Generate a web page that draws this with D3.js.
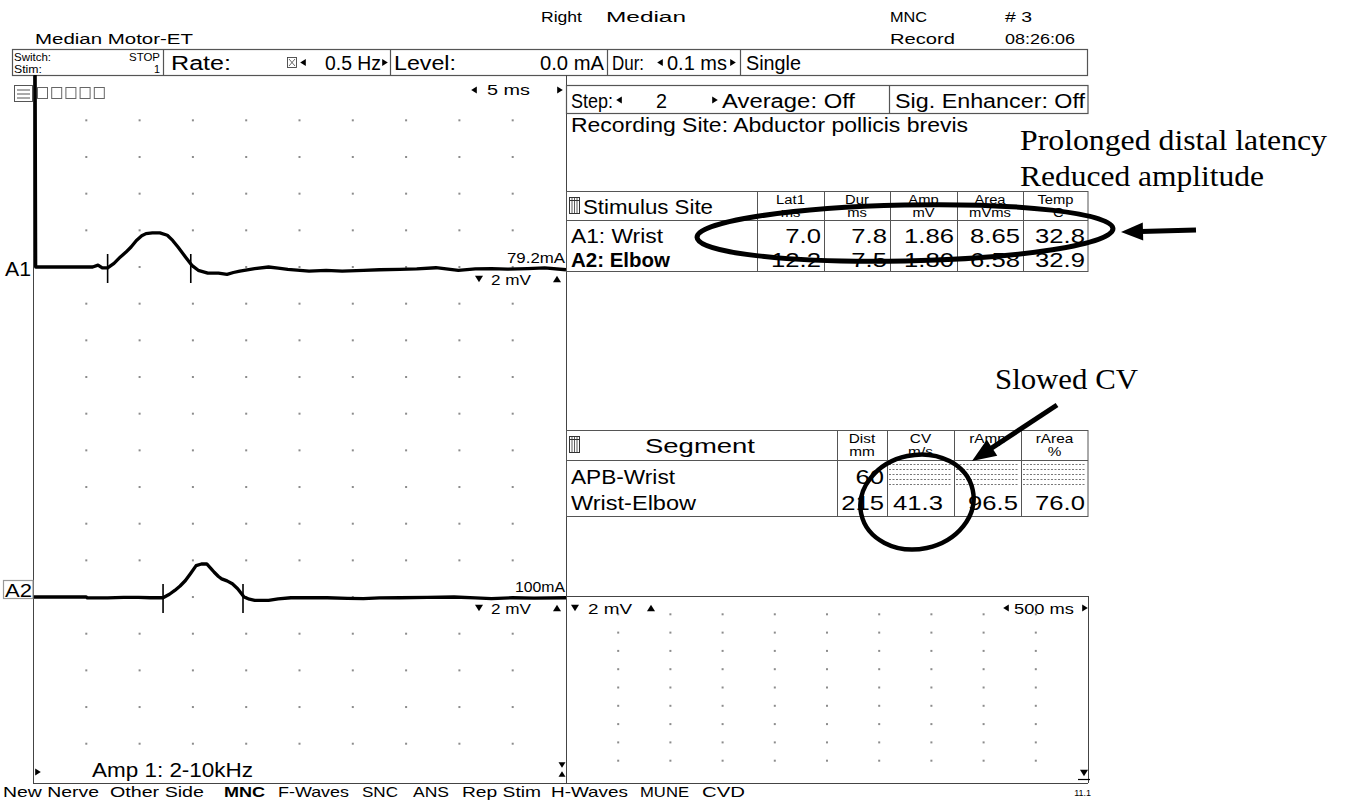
<!DOCTYPE html>
<html><head><meta charset="utf-8">
<script src="https://cdn.jsdelivr.net/npm/d3@7"></script>
<style>body{margin:0;background:#fff}svg{display:block}</style>
</head><body>
<script>
// ================= DATA =================
const titleLeft = "Median Motor-ET";
const titleTop = ["Right", "Median", "MNC", "Record", "# 3", "08:26:06"];
const ctrlLabels = ["Switch:", "STOP", "Stim:", "1", "Rate:", "0.5 Hz", "Level:", "0.0 mA", "Dur:", "0.1 ms", "Single"];
const stepLabels = ["Step:", "2", "Average: Off", "Sig. Enhancer: Off"];
const recordingSite = "Recording Site: Abductor pollicis brevis";

// A1 trace (time ms, amplitude mV)
const a1Time = [0.2, 0.25, 5.6, 6.1, 6.5, 7.0, 7.6, 8.2, 8.7, 9.2, 9.7, 10.2, 10.6, 11.2, 11.9, 12.6, 13.1, 13.6, 14.3, 14.9, 15.5, 16.4, 17.4, 18.2, 18.8, 19.4, 20.8, 22.1, 23.0, 23.9, 25.9, 27.5, 29.0, 31.0, 32.5, 34.4, 36.0, 37.8, 39.9, 41.5, 43.0, 44.5, 46.4, 48.0, 50.0];
const a1Volt = [10.8, 0, 0, 0.1, -0.05, -0.05, 0.2, 0.55, 0.8, 1.09, 1.45, 1.7, 1.82, 1.86, 1.86, 1.73, 1.45, 1.09, 0.55, 0.09, -0.18, -0.33, -0.33, -0.4, -0.3, -0.22, -0.09, 0.0, -0.06, -0.13, -0.22, -0.18, -0.22, -0.18, -0.15, -0.13, -0.1, -0.04, -0.18, -0.1, -0.09, -0.12, -0.09, -0.05, -0.15];
// A2 trace
const a2Time = [0, 5.0, 5.1, 7.0, 8.5, 9.9, 11.0, 12.2, 12.8, 13.3, 13.8, 14.3, 14.8, 15.3, 15.8, 16.3, 16.7, 17.0, 17.4, 17.7, 18.2, 18.7, 19.2, 19.8, 20.3, 20.8, 22.1, 23.0, 24.2, 26.0, 27.6, 29.5, 31.0, 32.5, 34.4, 37.0, 39.5, 41.5, 43.0, 45.0, 47.0, 50.0];
const a2Volt = [0, 0, -0.05, -0.05, -0.02, -0.02, -0.04, -0.04, 0.15, 0.36, 0.6, 0.9, 1.3, 1.71, 1.80, 1.80, 1.55, 1.35, 1.12, 0.99, 0.88, 0.72, 0.45, 0.0, -0.12, -0.18, -0.18, -0.1, -0.04, -0.04, -0.04, -0.07, -0.09, -0.05, -0.04, -0.02, 0, -0.05, -0.09, -0.04, -0.06, -0.04];
const a1Markers = [7.0, 14.8];
const a2Markers = [12.2, 19.7];
const traceNames = ["A1", "A2"];
const stimIntensity = ["79.2mA", "100mA"];
const sensLabel = "2 mV";
const sweepLabel = "5 ms";
const sweepLabel2 = "500 ms";
const ampLabel = "Amp 1: 2-10kHz";

// stimulus table
const stimSites = ["A1: Wrist", "A2: Elbow"];
const stimHead = [["Lat1", "ms"], ["Dur", "ms"], ["Amp", "mV"], ["Area", "mVms"], ["Temp", "°C"]];
const stimLat = [7.0, 12.2];
const stimDur = [7.8, 7.5];
const stimAmp = [1.86, 1.80];
const stimArea = [8.65, 6.58];
const stimTemp = [32.8, 32.9];

// segment table
const segNames = ["APB-Wrist", "Wrist-Elbow"];
const segHead = [["Dist", "mm"], ["CV", "m/s"], ["rAmp", "%"], ["rArea", "%"]];
const segDist = [60, 215];
const segCV = [null, 41.3];
const segRAmp = [null, 96.5];
const segRArea = [null, 76.0];

const navItems = ["New Nerve", "Other Side", "MNC", "F-Waves", "SNC", "ANS", "Rep Stim", "H-Waves", "MUNE", "CVD"];
const version = "11.1";
const notes = ["Prolonged distal latency", "Reduced amplitude", "Slowed CV"];

// ================= DRAWING =================
const W = 1347, H = 801;
const SANS = "'Liberation Sans', Arial, sans-serif";
const SERIF = "'Liberation Serif', 'Times New Roman', serif";
const SX = 1.18;
const svg = d3.select("body").append("svg").attr("width", W).attr("height", H);
svg.append("rect").attr("width", W).attr("height", H).attr("fill", "#fff");

function T(x, y, s, o = {}) {
  const t = svg.append("text").attr("x", x).attr("y", y).text(s)
    .attr("font-family", o.serif ? SERIF : SANS)
    .attr("font-size", o.size || 16)
    .attr("fill", o.fill || "#000");
  if (o.bold) t.attr("font-weight", "bold");
  let w = o.w;
  if (!w) w = t.node().getComputedTextLength() * (o.sx || SX);
  t.attr("textLength", w).attr("lengthAdjust", "spacingAndGlyphs");
  if (o.anchor === "end") t.attr("x", x - w);
  else if (o.anchor === "middle") t.attr("x", x - w / 2);
  return t;
}
function L(x1, y1, x2, y2, c = "#555", w = 1) {
  svg.append("line").attr("x1", x1).attr("y1", y1).attr("x2", x2).attr("y2", y2)
    .attr("stroke", c).attr("stroke-width", w);
}
function R(x, y, w, h, c = "#555", sw = 1) {
  svg.append("rect").attr("x", x).attr("y", y).attr("width", w).attr("height", h)
    .attr("fill", "none").attr("stroke", c).attr("stroke-width", sw);
}
function tri(cx, cy, dir, s = 4) {
  let p;
  if (dir === "l") p = [[cx - s * 0.8, cy], [cx + s * 0.8, cy - s], [cx + s * 0.8, cy + s]];
  if (dir === "r") p = [[cx + s * 0.8, cy], [cx - s * 0.8, cy - s], [cx - s * 0.8, cy + s]];
  if (dir === "d") p = [[cx, cy + s * 0.8], [cx - s, cy - s * 0.8], [cx + s, cy - s * 0.8]];
  if (dir === "u") p = [[cx, cy - s * 0.8], [cx - s, cy + s * 0.8], [cx + s, cy + s * 0.8]];
  svg.append("path").attr("d", d3.line()(p) + "Z").attr("fill", "#000");
}
function tableIcon(x, y) {
  R(x + 0.5, y + 0.5, 10, 16, "#333", 1);
  [2.5, 5, 7.5].forEach(d => L(x + 0.5 + d, y + 0.5, x + 0.5 + d, y + 16.5, "#333", 0.8));
  L(x + 0.5, y + 3.5, x + 10.5, y + 3.5, "#333", 1);
}

// ---- header ----
T(35, 44, titleLeft, { size: 15.5, w: 158 });
T(541, 22, titleTop[0], { size: 15.5, w: 41 });
T(606, 22, titleTop[1], { size: 15.5, w: 80 });
T(890, 22, titleTop[2], { size: 15.5, w: 37 });
T(890, 44, titleTop[3], { size: 15.5, w: 65 });
T(1005, 22, titleTop[4], { size: 15.5, w: 27 });
T(1005, 44, titleTop[5], { size: 15.5, w: 70 });

// ---- control bar ----
const cb = { y0: 49.5, y1: 75.5 };
R(12.5, cb.y0, 1075, cb.y1 - cb.y0, "#555", 1.2);
[163.5, 390.5, 607.5, 740.5].forEach(x => L(x, cb.y0, x, cb.y1, "#555", 1.2));
T(14, 61, ctrlLabels[0], { size: 11.5, w: 37 });
T(160, 61, ctrlLabels[1], { size: 11.5, w: 31, anchor: "end" });
T(14, 73, ctrlLabels[2], { size: 11.5, w: 28 });
T(160, 73, ctrlLabels[3], { size: 11.5, w: 6, anchor: "end" });
T(171, 70, ctrlLabels[4], { size: 19.5, w: 60 });
R(287.5, 57.5, 9, 10, "#444", 0.9);
L(289, 59, 295, 66, "#444", 0.8); L(295, 59, 289, 66, "#444", 0.8);
tri(303, 62.5, "l", 3.5);
T(325, 70, ctrlLabels[5], { size: 19.5, w: 56 });
tri(385, 62.5, "r", 3.5);
T(394, 70, ctrlLabels[6], { size: 19.5, w: 62 });
T(604, 70, ctrlLabels[7], { size: 19.5, w: 64, anchor: "end" });
T(612, 70, ctrlLabels[8], { size: 19.5, w: 32 });
tri(660, 62.5, "l", 3.5);
T(667, 70, ctrlLabels[9], { size: 19.5, w: 60 });
tri(733, 62.5, "r", 3.5);
T(746, 70, ctrlLabels[10], { size: 19.5, w: 55 });

// ---- left panel frame ----
const LX0 = 33, LX1 = 566, PY0 = 75, PY1 = 783;
L(LX0 + 0.5, PY0, LX0 + 0.5, PY1, "#444", 1);
L(LX1 + 0.5, PY0, LX1 + 0.5, PY1, "#444", 1);
L(LX0, PY1 + 0.5, 1088, PY1 + 0.5, "#444", 1);

// icons top-left
R(14.5, 85.5, 18, 16, "#555", 1);
[90, 94, 98].forEach(y => L(17, y, 30, y, "#555", 1));
d3.range(5).forEach(i => R(37.5 + i * 14.2, 87.5, 10, 11, "#666", 1));
tri(474, 90, "l", 3.5);
T(487, 95, sweepLabel, { size: 14, w: 43 });
tri(560, 90, "r", 3.5);

// scales
const x = d3.scaleLinear().domain([0, 50]).range([LX0, LX1]);
const DIV = 36.67;
const base1 = 267, base2 = 597;
const yA1 = d3.scaleLinear().domain([0, 2]).range([base1, base1 - DIV]);
const yA2 = d3.scaleLinear().domain([0, 2]).range([base2, base2 - DIV]);

// grid dots
const dotG = svg.append("g").attr("fill", "#8c8c8c");
const gridCols = d3.range(5, 50, 5);
const gridRows = d3.range(8, -27, -2);
gridRows.forEach(v => gridCols.forEach(t => {
  dotG.append("rect").attr("x", x(t) - 1).attr("y", yA1(v) - 1).attr("width", 2).attr("height", 2);
}));

// traces
const clip = svg.append("clipPath").attr("id", "lp");
clip.append("rect").attr("x", LX0).attr("y", PY0).attr("width", LX1 - LX0 + 1).attr("height", PY1 - PY0);
const line1 = d3.line().x(d => x(d[0])).y(d => yA1(d[1]));
const line2 = d3.line().x(d => x(d[0])).y(d => yA2(d[1]));
svg.append("path").attr("d", line1(a1Time.map((t, i) => [t, a1Volt[i]])))
  .attr("fill", "none").attr("stroke", "#000").attr("stroke-width", 3.3)
  .attr("stroke-linejoin", "round").attr("clip-path", "url(#lp)");
svg.append("path").attr("d", line2(a2Time.map((t, i) => [t, a2Volt[i]])))
  .attr("fill", "none").attr("stroke", "#000").attr("stroke-width", 3.3)
  .attr("stroke-linejoin", "round").attr("clip-path", "url(#lp)");
a1Markers.forEach(t => L(x(t), base1 - 13, x(t), base1 + 16, "#000", 1.6));
a2Markers.forEach(t => L(x(t), base2 - 13, x(t), base2 + 16, "#000", 1.6));

// trace labels
T(5, 276, traceNames[0], { size: 20, w: 26 });
T(565, 263, stimIntensity[0], { size: 15, w: 58, anchor: "end" });
tri(479, 279, "d", 4);
T(491, 285, sensLabel, { size: 14, w: 40 });
tri(557, 279, "u", 4);

svg.append("rect").attr("x", 3.5).attr("y", 580.5).attr("width", 29.5).attr("height", 18)
  .attr("fill", "none").attr("stroke", "#999").attr("stroke-width", 1.2);
T(5, 597, traceNames[1], { size: 19, w: 27 });
T(565, 592, stimIntensity[1], { size: 15, w: 50, anchor: "end" });
tri(479, 608, "d", 4);
T(491, 614, sensLabel, { size: 14, w: 40 });
tri(557, 608, "u", 4);

// bottom-left
tri(38, 772, "r", 3.5);
T(92, 777, ampLabel, { size: 19.5, w: 161 });
tri(562, 765, "d", 3.5);
tri(562, 774, "u", 3.5);

// ---- right lower panel ----
const RX0 = 566, RX1 = 1088, RY0 = 596;
L(RX0, RY0 + 0.5, RX1, RY0 + 0.5, "#444", 1);
L(RX1 + 0.5, RY0, RX1 + 0.5, PY1, "#444", 1);
const xr = d3.scaleLinear().domain([0, 5000]).range([RX0, RX1]);
const yr = d3.scaleLinear().domain([0, 1]).range([RY0, RY0 + 18.3]);
d3.range(1, 10).forEach(r => d3.range(500, 5000, 500).forEach(t => {
  dotG.append("rect").attr("x", xr(t) - 1).attr("y", yr(r) - 1).attr("width", 2).attr("height", 2);
}));
tri(575, 608, "d", 4);
T(588, 614, sensLabel, { size: 14, w: 44 });
tri(651, 608, "u", 4);
tri(1006, 608, "l", 3.5);
T(1014, 614, sweepLabel2, { size: 14, w: 60 });
tri(1085, 608, "r", 3.5);
tri(1084, 773, "d", 4);
L(1078, 779.5, 1090, 779.5, "#000", 1.2);

// ---- step row ----
R(566.5, 85.5, 521.5, 28, "#555", 1.2);
L(889.5, 85.5, 889.5, 113.5, "#555", 1.2);
T(571, 108, stepLabels[0], { size: 19.5, w: 42 });
tri(619, 100, "l", 3.5);
T(656, 108, stepLabels[1], { size: 19.5, w: 11 });
tri(715, 100, "r", 3.5);
T(722, 108, stepLabels[2], { size: 19.5, w: 133 });
T(895, 108, stepLabels[3], { size: 19.5, w: 190 });

T(571, 132, recordingSite, { size: 19.5, w: 397 });

// ---- stimulus table ----
const sCols = [566, 757, 824, 890, 957, 1023, 1088];
const sY = [191, 220, 271];
R(566.5, sY[0] + 0.5, 521.5, sY[2] - sY[0], "#555", 1);
L(566, sY[1] + 0.5, 1088, sY[1] + 0.5, "#555", 1);
sCols.slice(1, -1).forEach(c => L(c + 0.5, sY[0], c + 0.5, sY[2], "#555", 1));
tableIcon(569, 197);
T(583, 214, "Stimulus Site", { size: 21, w: 130 });
stimHead.forEach((h, i) => {
  const cx = (sCols[i + 1] + sCols[i + 2]) / 2;
  T(cx, 204, h[0], { size: 12.5, anchor: "middle" });
  T(cx, 217, h[1], { size: 12.5, anchor: "middle" });
});
const stimRows = stimSites.map((s, i) => [s, stimLat[i].toFixed(1), stimDur[i].toFixed(1),
  stimAmp[i].toFixed(2), stimArea[i].toFixed(2), stimTemp[i].toFixed(1)]);
const sBase = [243, 267];
stimRows.forEach((r, i) => {
  T(571, sBase[i], r[0], { size: 21, w: i === 0 ? 92 : 99, bold: i === 1 });
  r.slice(1).forEach((v, j) => T(sCols[j + 2] - 3, sBase[i], v, { size: 21, anchor: "end", sx: 1.22 }));
});

// ---- segment table ----
const gCols = [566, 837, 887, 954, 1021, 1088];
const gY = [430, 460, 516];
R(566.5, gY[0] + 0.5, 521.5, gY[2] - gY[0], "#555", 1);
L(566, gY[1] + 0.5, 1088, gY[1] + 0.5, "#555", 1);
gCols.slice(1, -1).forEach(c => L(c + 0.5, gY[0], c + 0.5, gY[2], "#555", 1));
tableIcon(569, 436);
T(700, 453, "Segment", { size: 21, w: 110, anchor: "middle" });
segHead.forEach((h, i) => {
  const cx = (gCols[i + 1] + gCols[i + 2]) / 2;
  T(cx, 443, h[0], { size: 13, anchor: "middle" });
  T(cx, 456, h[1], { size: 13, anchor: "middle" });
});
// dotted (empty) cells of first row
for (let c = 2; c < 5; c++) {
  [464, 469, 474, 479, 484].forEach(yy => {
    svg.append("line").attr("x1", gCols[c] + 2).attr("x2", gCols[c + 1] - 2)
      .attr("y1", yy + 0.5).attr("y2", yy + 0.5)
      .attr("stroke", "#777").attr("stroke-width", 1).attr("stroke-dasharray", "2,1.5");
  });
}
const gBase = [484, 510];
segNames.forEach((s, i) => {
  T(571, gBase[i], s, { size: 21, w: i === 0 ? 104 : 125 });
  T(884, gBase[i], String(segDist[i]), { size: 21, anchor: "end", sx: 1.22 });
  if (segCV[i] != null) T(943, gBase[i], segCV[i].toFixed(1), { size: 21, anchor: "end", sx: 1.22 });
  if (segRAmp[i] != null) T(1018, gBase[i], segRAmp[i].toFixed(1), { size: 21, anchor: "end", sx: 1.22 });
  if (segRArea[i] != null) T(1085, gBase[i], segRArea[i].toFixed(1), { size: 21, anchor: "end", sx: 1.22 });
});

// ---- nav ----
const navPos = [[3, 96], [110, 94], [224, 41], [278, 71], [362, 36], [413, 36], [462, 79], [551, 77], [640, 49], [702, 43]];
navItems.forEach((n, i) => T(navPos[i][0], 797, n, { size: 15, w: navPos[i][1], bold: n === "MNC" }));
T(1091, 796, version, { size: 9, anchor: "end", sx: 1.0 });

// ---- annotations ----
svg.append("ellipse").attr("cx", 905).attr("cy", 233).attr("rx", 208).attr("ry", 28)
  .attr("transform", "rotate(-1.2 905 233)")
  .attr("fill", "none").attr("stroke", "#000").attr("stroke-width", 5);
svg.append("ellipse").attr("cx", 917).attr("cy", 502).attr("rx", 57).attr("ry", 47)
  .attr("transform", "rotate(-12 917 502)")
  .attr("fill", "none").attr("stroke", "#000").attr("stroke-width", 4.5);

function arrow(x1, y1, x2, y2, hl = 22, hw = 9, sw = 5) {
  const dx = x2 - x1, dy = y2 - y1, len = Math.hypot(dx, dy);
  const ux = dx / len, uy = dy / len, nx = -uy, ny = ux;
  const bx = x2 - ux * hl, by = y2 - uy * hl;
  L(x1, y1, bx + ux * 2, by + uy * 2, "#000", sw);
  svg.append("path").attr("d", `M${x2},${y2}L${bx + nx * hw},${by + ny * hw}L${bx - nx * hw},${by - ny * hw}Z`)
    .attr("fill", "#000");
}
arrow(1196, 230, 1121, 232, 22, 9, 5);
arrow(1057, 405, 972, 461, 24, 9.5, 5);

T(1020, 150, notes[0], { serif: true, size: 30, w: 307 });
T(1020, 186, notes[1], { serif: true, size: 30, w: 244 });
T(995, 389, notes[2], { serif: true, size: 30, w: 143 });
</script>
</body></html>
